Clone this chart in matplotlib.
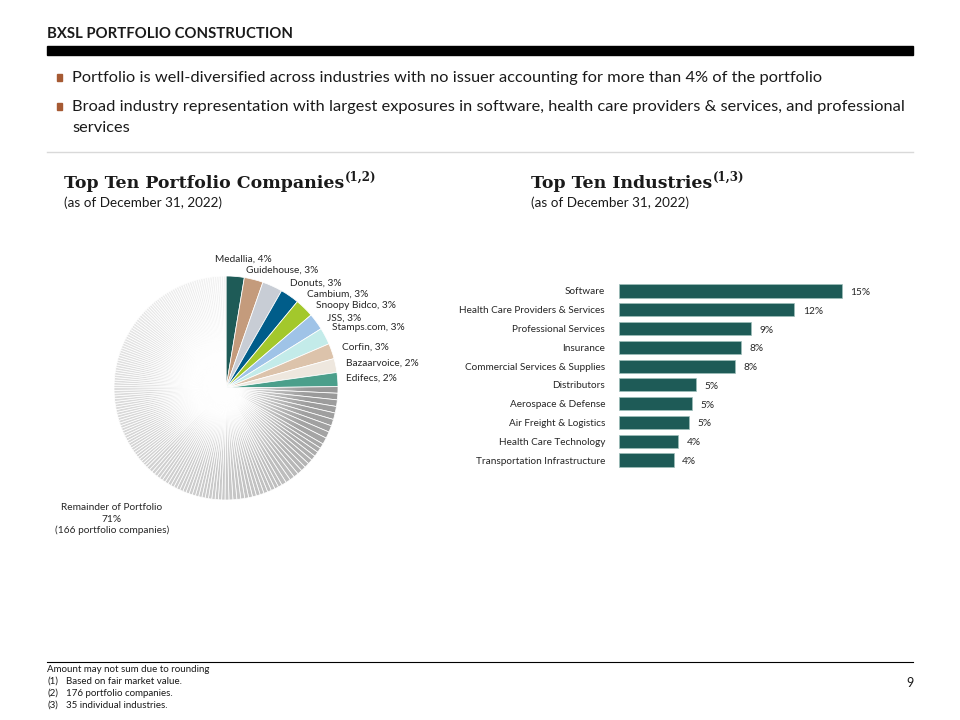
import numpy as np
import matplotlib
matplotlib.use('Agg')
import matplotlib.pyplot as plt
from matplotlib.patches import Rectangle, Wedge
from matplotlib.colors import LinearSegmentedColormap

plt.rcParams['font.family'] = ['Lato', 'DejaVu Sans']

# top ten portfolio companies
companies = ['Medallia', 'Guidehouse', 'Donuts', 'Cambium', 'Snoopy Bidco',
             'JSS', 'Stamps.com', 'Corfin', 'Bazaarvoice', 'Edifecs']
company_pct = [4, 3, 3, 3, 3, 3, 3, 3, 2, 2]
# slice sizes as they are drawn in the pie (%)
company_slice = [2.6, 2.7, 2.9, 2.7, 2.7, 2.4, 2.4, 2.2, 2.0, 2.0]
company_colors = ['#1e5b57', '#c49b7c', '#c8cdd5', '#005d8a', '#a3c82c',
                  '#9fc3e7', '#c3ebe9', '#dcc3ab', '#eee7de', '#4b9f8b']

remainder_pct = 71
remainder_count = 166
# remainder slices, largest first: (companies, slice size %)
remainder_groups = [(9, 0.94), (12, 0.69), (15, 0.56), (26, 0.47),
                    (32, 0.39), (33, 0.36), (39, 0.33)]

# top ten industries
industries = ['Software', 'Health Care Providers & Services', 'Professional Services',
              'Insurance', 'Commercial Services & Supplies', 'Distributors',
              'Aerospace & Defense', 'Air Freight & Logistics',
              'Health Care Technology', 'Transportation Infrastructure']
industry_pct = [15, 12, 9, 8, 8, 5, 5, 5, 4, 4]
industry_bar = [15.0, 11.8, 8.9, 8.2, 7.8, 5.2, 4.9, 4.7, 4.0, 3.7]

W, H = 960, 720
fig = plt.figure(figsize=(W / 100, H / 100), dpi=100)


def fx(x):
    return x / W


def fy(y):
    return 1 - y / H


def txt(x, y, s, **kw):
    return fig.text(fx(x), fy(y), s, **kw)


# ---- header ----
txt(47, 34, 'BXSL PORTFOLIO CONSTRUCTION', fontsize=10.7, fontweight='bold',
    color='#1a1a1a', va='center')
fig.patches.append(Rectangle((fx(47), fy(55)), fx(913) - fx(47), fy(46) - fy(55),
                             transform=fig.transFigure, color='black'))

bullets = [(78, 'Portfolio is well-diversified across industries with no issuer accounting for more than 4% of the portfolio'),
           (107, 'Broad industry representation with largest exposures in software, health care providers & services, and professional'),
           (128, 'services')]
for i, (y, s) in enumerate(bullets):
    if i < 2:
        fig.patches.append(Rectangle((fx(57), fy(y + 3)), 5 / W, 7 / H,
                                     transform=fig.transFigure, color='#a65a33'))
    txt(72, y, s, fontsize=11.8, color='#1a1a1a', va='center')

fig.add_artist(plt.Line2D([fx(47), fx(913)], [fy(152), fy(152)],
                          transform=fig.transFigure, color='#d9d9d9', lw=1))

# ---- section headings ----
fig.canvas.draw()
for x0, head, sup in [(64, 'Top Ten Portfolio Companies', '(1,2)'),
                      (531, 'Top Ten Industries', '(1,3)')]:
    t = txt(x0, 188, head, fontsize=12.5, fontweight='bold',
            family='DejaVu Serif', color='#1a1a1a', va='baseline')
    bb = t.get_window_extent(renderer=fig.canvas.get_renderer())
    fig.text(bb.x1 / W + 1 / W, fy(181), sup, fontsize=8.5, fontweight='bold',
             family='DejaVu Serif', color='#1a1a1a', va='baseline')
    txt(x0, 203, '(as of December 31, 2022)', fontsize=9.7, color='#1a1a1a', va='center')

# ---- pie ----
cx, cy, half = 226, 388, 140
axp = fig.add_axes([fx(cx - half), fy(cy + half), 2 * half / W, 2 * half / H])
rem_sizes = np.repeat([s for n, s in remainder_groups], [n for n, s in remainder_groups])
sizes = np.concatenate([company_slice, rem_sizes])
pos = (np.cumsum(rem_sizes) - rem_sizes / 2) / rem_sizes.sum()
grays = LinearSegmentedColormap.from_list(
    'rem', [(0, '#989898'), (0.1, '#a4a4a4'), (0.2, '#bcbcbc'), (0.35, '#c9c9c9'),
            (0.55, '#d4d4d4'), (0.75, '#e2e2e2'), (1, '#f3f3f3')])
colors = company_colors + [grays(p) for p in pos]
axp.pie(sizes, colors=colors, startangle=90, counterclock=False, radius=1,
        wedgeprops=dict(edgecolor='white', linewidth=0.55))

end_angle = 90 - 360 * sum(company_slice) / sizes.sum()
n = 400
g = np.linspace(-1, 1, n)
X, Y = np.meshgrid(g, g)
R = np.hypot(X, Y)
img = np.ones((n, n, 4))
img[..., 3] = np.clip(1 - R / 0.75, 0, 1) ** 1.2
im = axp.imshow(img, extent=(-1, 1, -1, 1), origin='lower', zorder=3)
clip = Wedge((0, 0), 1.0, 90, 360 + end_angle, transform=axp.transData)
im.set_clip_path(clip)
axp.set_xlim(-1.25, 1.25)
axp.set_ylim(-1.25, 1.25)
axp.set_aspect('equal')
axp.axis('off')

label_pos = [(215, 259), (246, 270), (290, 283), (307, 294), (316, 305),
             (327, 318), (332, 328), (342, 347), (346, 363), (346, 378)]
for (x, y), name, p in zip(label_pos, companies, company_pct):
    txt(x, y, f'{name}, {p}%', fontsize=7.3, color='#262626', va='center')
for y, s in [(507, 'Remainder of Portfolio'), (519, f'{remainder_pct}%'),
             (530, f'({remainder_count} portfolio companies)')]:
    txt(112, y, s, fontsize=7.3, color='#262626', va='center', ha='center')

# ---- bars ----
row = 18.78
axb = fig.add_axes([fx(619), fy(460 + row / 2), 281 / W, 10 * row / H])
ypos = np.arange(len(industries))
axb.barh(ypos, industry_bar, height=0.7, color='#1e5b57', edgecolor='#9fbfbb', linewidth=0.5)
for y, v, p in zip(ypos, industry_bar, industry_pct):
    axb.text(v + 0.55, y + 0.08, f'{p}%', va='center', fontsize=7.3, color='#262626')
axb.set_xlim(0, 281 / 14.87)
axb.set_ylim(9.5, -0.5)
axb.set_yticks(ypos)
axb.set_yticklabels(industries, fontsize=7.2, color='#262626')
axb.tick_params(axis='y', length=0, pad=10)
axb.set_xticks([])
for s in axb.spines.values():
    s.set_visible(False)

# ---- footer ----
fig.add_artist(plt.Line2D([fx(47), fx(913)], [fy(662), fy(662)],
                          transform=fig.transFigure, color='black', lw=0.8))
txt(47, 669, 'Amount may not sum due to rounding', fontsize=7, color='#1a1a1a', va='center')
for y, k, s in [(681, '(1)', 'Based on fair market value.'),
                (693, '(2)', '176 portfolio companies.'),
                (705, '(3)', '35 individual industries.')]:
    txt(47, y, k, fontsize=7, color='#1a1a1a', va='center')
    txt(66, y, s, fontsize=7, color='#1a1a1a', va='center')
txt(906, 683, '9', fontsize=9, color='#1a1a1a', va='center')

fig.savefig('out.png', dpi=100)
